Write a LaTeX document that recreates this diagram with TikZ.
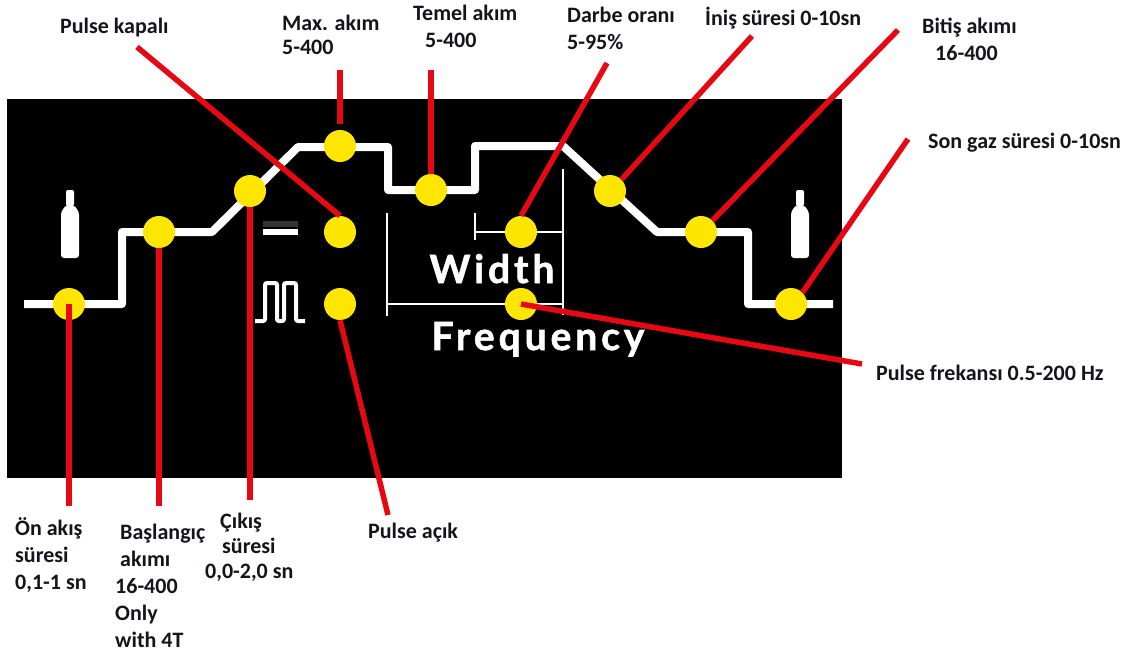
\documentclass[tikz,border=0pt]{standalone}
\usepackage{fontspec}
\setmainfont{Carlito}[BoldFont=Carlito Bold]
\newfontfamily\panelfont{Lato}[BoldFont=Lato Bold,BoldFeatures={FakeBold=1.5},LetterSpace=10]
\definecolor{redline}{RGB}{230,8,18}
\definecolor{dotyellow}{RGB}{255,230,0}
\definecolor{labink}{RGB}{20,20,28}
\tikzset{
  x=1pt,y=-1pt,
  dotmark/.style={circle,fill=dotyellow,minimum size=32pt,inner sep=0pt},
  lead/.style={draw=redline,line width=5.5pt},
  profile/.style={draw=white,line width=8pt,line join=round},
  thin bar/.style={draw=white,line width=2.6pt},
  lab/.style={inner sep=0pt,align=left,text=labink,font=\fontsize{22}{27}\selectfont\bfseries},
  paneltext/.style={inner sep=0pt,text=white,font=\panelfont\fontsize{39}{39}\selectfont\bfseries},
}
\begin{document}
\begin{tikzpicture}
\useasboundingbox (0,0) rectangle (1137,657);
\fill[white] (0,0) rectangle (1137,657);
\fill[black] (7,99) rectangle (842,478);
% profile
\draw[profile] (24,304) -- (122,304) -- (122,232) -- (212,232) -- (298,147) -- (388,147) -- (388,190) -- (475,190) -- (475,146) -- (563,146) -- (657,232) -- (748,232) -- (748,304) -- (833,304);
% bottles
\fill[white,rounded corners=2pt] (66,190) rectangle (74,206);
\fill[white,rounded corners=3pt] (61,258) -- (61,212) -- (66,205) -- (74,205) -- (79,212) -- (79,258) -- cycle;
\fill[white,rounded corners=2pt] (796,190) rectangle (804,206);
\fill[white,rounded corners=3pt] (791,258) -- (791,212) -- (796,205) -- (804,205) -- (809,212) -- (809,258) -- cycle;
% minus and pulse icons
\fill[black!80] (263,221) rectangle (298,227);
\fill[white] (263,229) rectangle (298,235);
\draw[draw=white,line width=4pt,rounded corners=2pt] (255,321) -- (265,321) -- (265,283) -- (277,283) -- (277,321) -- (284,321) -- (284,283) -- (296,283) -- (296,321) -- (305,321);
% brackets
\draw[thin bar] (387,213) -- (387,316);
\draw[thin bar] (387,304) -- (563,304);
\draw[thin bar] (563,169) -- (563,315);
\draw[thin bar] (475,213) -- (475,240);
\draw[thin bar] (475,232) -- (563,232);
% panel texts
\node[paneltext,anchor=base] (wtext) at (492,283) {Width};
\node[paneltext,anchor=base] (ftext) at (538,350) {Frequency};
% dots
\node[dotmark] (d1) at (69,304) {};
\node[dotmark] (d2) at (159,232) {};
\node[dotmark] (d3) at (250,191) {};
\node[dotmark] (d4) at (340,146) {};
\node[dotmark] (d5) at (431,190) {};
\node[dotmark] (d6) at (521,232) {};
\node[dotmark] (d7) at (521,304) {};
\node[dotmark] (d8) at (340,232) {};
\node[dotmark] (d9) at (340,304) {};
\node[dotmark] (d10) at (610,191) {};
\node[dotmark] (d11) at (701,232) {};
\node[dotmark] (d12) at (791,304) {};
% free ends
\coordinate (e1) at (69,506);
\coordinate (e2) at (159,506);
\coordinate (e3) at (250,500);
\coordinate (e4) at (340,70);
\coordinate (e5) at (431,70);
\coordinate (e6) at (607,63);
\coordinate (e7) at (862,364);
\coordinate (e8) at (137,47);
\coordinate (e9) at (388,515);
\coordinate (e10) at (752,36);
\coordinate (e11) at (898,30);
\coordinate (e12) at (908,139);
\coordinate (e4b) at (340,124);
% connectors
\draw[lead] (e1) -- (d1.center);
\draw[lead] (e2) -- (d2.south);
\draw[lead] (e3) -- (d3.south);
\draw[lead] (e4) -- (e4b);
\draw[lead] (e5) -- (d5.north);
\draw[lead] (e6) -- (d6.north);
\draw[lead] (e7) -- (d7.center);
\draw[lead] (e8) -- (d8.north);
\draw[lead] (e9) -- (d9.south);
\draw[lead] (e10) -- (d10.north east);
\draw[lead] (e11) -- (d11.north east);
\draw[lead] (e12) -- (d12.north east);
% labels
\node[lab,anchor=west] (l8) at (60,28) {Pulse kapalı};
\node[lab,anchor=north west] (l4) at (282,15) {Max. akım\\[-3pt]5-400};
\node[lab,anchor=north west] (l5) at (413,5) {Temel akım\\\hspace*{12pt}5-400};
\node[lab,anchor=north west] (l6) at (567,7) {Darbe oranı\\5-95\%};
\node[lab,anchor=west] (l10) at (705,18) {İniş süresi 0-10sn};
\node[lab,anchor=north west] (l11) at (922,18) {Bitiş akımı\\\hspace*{13pt}16-400};
\node[lab,anchor=west] (l12) at (928,143) {Son gaz süresi 0-10sn};
\node[lab,anchor=west] (l7) at (876,373) {Pulse frekansı 0.5-200 Hz};
\node[lab,anchor=north west] (l1) at (15,517) {Ön akış\\süresi\\0,1-1 sn};
\node[lab,anchor=north west] (l2) at (115,524) {\hspace*{5pt}Başlangıç\\\hspace*{5pt}akımı\\16-400\\Only\\with 4T};
\node[lab,anchor=north west] (l3) at (205,513) {\hspace*{15pt}Çıkış\\[-2pt]\hspace*{17pt}süresi\\[-2pt]0,0-2,0 sn};
\node[lab,anchor=west] (l9) at (368,533) {Pulse açık};
\end{tikzpicture}
\end{document}
